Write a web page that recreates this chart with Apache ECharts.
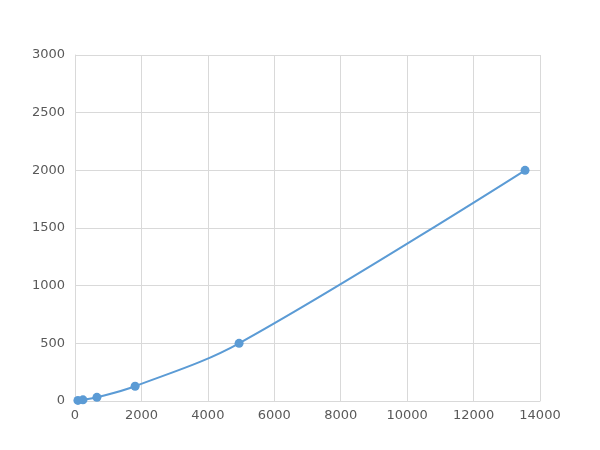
<!DOCTYPE html>
<html><head><meta charset="utf-8">
<script src="https://cdn.jsdelivr.net/npm/echarts@6/dist/echarts.min.js"></script>
<style>html,body{margin:0;padding:0;background:#fff}#c{width:600px;height:450px}</style>
</head><body><div id="c"></div>
<script>
const xValues = [88, 240, 660, 1810, 4940, 13550];
const yValues = [5, 10, 32, 128, 500, 2000];
const chart = echarts.init(document.getElementById('c'));
const data = xValues.map((x, i) => [x, yValues[i]]);
const txt = {color: '#595959', fontSize: 13, fontFamily: 'DejaVu Sans, sans-serif', formatter: v => String(v)};
chart.setOption({
  animation: false,
  grid: {left: 75, right: 60, top: 55, bottom: 49, containLabel: false},
  xAxis: {type: 'value', min: 0, max: 14000, interval: 2000,
    axisLine: {show: true, lineStyle: {color: '#d9d9d9'}},
    axisTick: {show: false},
    axisLabel: Object.assign({margin: 8}, txt),
    splitLine: {show: true, lineStyle: {color: '#d9d9d9'}}},
  yAxis: {type: 'value', min: 0, max: 3000, interval: 500,
    axisLine: {show: true, lineStyle: {color: '#d9d9d9'}},
    axisTick: {show: false},
    axisLabel: Object.assign({margin: 10}, txt),
    splitLine: {show: true, lineStyle: {color: '#d9d9d9'}}},
  series: [{type: 'line', data: data, smooth: 0.35, symbol: 'circle', symbolSize: 9,
    itemStyle: {color: '#5b9bd5'}, lineStyle: {color: '#5b9bd5', width: 2}}]
});
</script></body></html>
